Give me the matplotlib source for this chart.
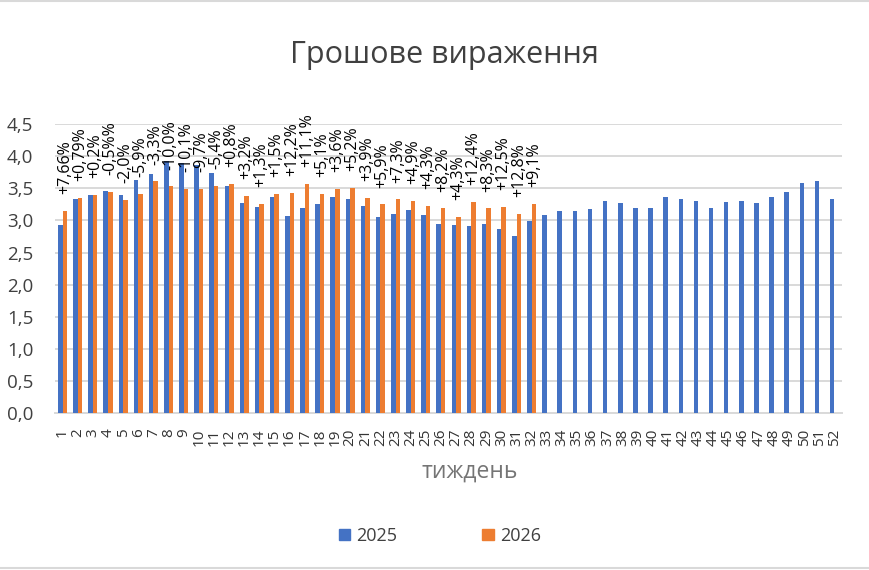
import matplotlib
matplotlib.use("Agg")
import matplotlib.pyplot as plt
from matplotlib.patches import Patch
import numpy as np

plt.rcParams['font.family'] = ['Open Sans', 'DejaVu Sans']

weeks = list(range(1, 53))
week_labels = [str(w) for w in weeks]

values_2025 = [2.93, 3.33, 3.39, 3.46, 3.39, 3.63, 3.73, 3.92, 3.89, 3.86,
               3.74, 3.53, 3.27, 3.21, 3.36, 3.07, 3.20, 3.25, 3.36, 3.33,
               3.23, 3.06, 3.10, 3.16, 3.09, 2.94, 2.93, 2.91, 2.94, 2.86,
               2.76, 2.99, 3.09, 3.14, 3.15, 3.18, 3.31, 3.27, 3.19, 3.19,
               3.37, 3.33, 3.30, 3.20, 3.29, 3.31, 3.27, 3.36, 3.45, 3.59,
               3.62, 3.33]

values_2026 = [3.15, 3.35, 3.40, 3.44, 3.32, 3.41, 3.61, 3.53, 3.49, 3.49,
               3.54, 3.57, 3.38, 3.26, 3.41, 3.43, 3.57, 3.41, 3.49, 3.51,
               3.35, 3.25, 3.33, 3.31, 3.23, 3.19, 3.06, 3.29, 3.19, 3.21,
               3.10, 3.26]

change_labels = ["+7,66%", "+0,79%", "+0,2%", "-0,5%%", "-2,0%", "-5,9%", "-3,3%",
                 "-10,0%", "-10,1%", "-9,7%", "-5,4%", "+0,8%", "+3,2%", "+1,3%",
                 "+1,5%", "+12,2%", "+11,1%", "+5,1%", "+3,6%", "+5,2%", "+3,9%",
                 "+5,9%", "+7,3%", "+4,9%", "+4,3%", "+8,2%", "+4,3%", "+12,4%",
                 "+8,3%", "+12,5%", "+12,8%", "+9,1%"]

y_ticks = [0.0, 0.5, 1.0, 1.5, 2.0, 2.5, 3.0, 3.5, 4.0, 4.5]
y_tick_labels = [f"{v:.1f}".replace(".", ",") for v in y_ticks]

BLUE = "#4472C4"
ORANGE = "#ED7D31"
GRID = "#D9D9D9"
TEXT = "#404040"

fig = plt.figure(figsize=(8.7, 5.7), dpi=100)
W, H = 870, 570
ax = fig.add_axes([55 / W, 1 - 413.3 / H, (842 - 55) / W, (413.3 - 124) / H])

bw = 0.3
x25 = np.array(weeks, dtype=float)
x26 = np.array(weeks[:len(values_2026)], dtype=float)
ax.bar(x25 - bw / 2, values_2025, width=bw, color=BLUE, zorder=3, label="2025")
ax.bar(x26 + bw / 2, values_2026, width=bw, color=ORANGE, zorder=3, label="2026")

for xi, v, lab in zip(x26, values_2026, change_labels):
    ax.annotate(lab, xy=(xi + bw / 2, v), xytext=(0, 12), textcoords="offset points",
                rotation=90, ha="center", va="bottom", fontsize=11.5, color="#000000",
                zorder=4)

ax.set_xlim(0.5, 52.5)
ax.set_ylim(0, 4.5)
ax.set_yticks(y_ticks)
ax.set_yticklabels(y_tick_labels)
ax.set_xticks(weeks)
ax.set_xticklabels(week_labels, rotation=90)
ax.tick_params(axis="y", length=0, pad=15.5, labelsize=13.5, labelcolor=TEXT)
ax.tick_params(axis="x", length=0, pad=11, labelsize=11, labelcolor="#333333")
ax.yaxis.grid(True, color=GRID, linewidth=1.4, zorder=0)
ax.set_axisbelow(True)
for s in ["top", "right", "left"]:
    ax.spines[s].set_visible(False)
ax.spines["bottom"].set_color(GRID)
ax.spines["bottom"].set_linewidth(1.4)

fig.text(444 / W, 1 - 63 / H, "Грошове вираження", ha="center", va="baseline",
         fontsize=22, color=TEXT)
fig.text(470 / W, 1 - 477.5 / H, "тиждень", ha="center", va="baseline",
         fontsize=16.5, color="#757575")

handles = [Patch(color=BLUE), Patch(color=ORANGE)]
leg = fig.legend(handles, ["2025", "2026"], loc="center", bbox_to_anchor=(440 / W, 1 - 536 / H),
                 ncol=2, frameon=False, fontsize=13, handlelength=0.62, handleheight=0.62,
                 handletextpad=0.35, columnspacing=4.7, labelcolor=TEXT)

# chart-area border lines (top and bottom)
fig.add_artist(plt.Line2D([0, 1], [1 - 0.5 / H, 1 - 0.5 / H], color="#D9D9D9", linewidth=1.5))
fig.add_artist(plt.Line2D([0, 1], [1 - 568 / H, 1 - 568 / H], color="#D9D9D9", linewidth=1.5))

fig.savefig("out.png", dpi=100)
